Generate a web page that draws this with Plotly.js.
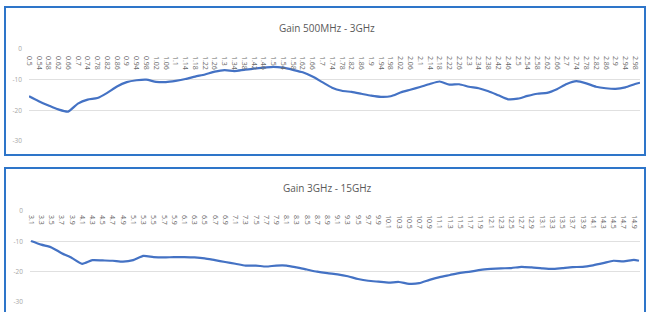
<!DOCTYPE html>
<html>
<head>
<meta charset="utf-8">
<script src="https://cdn.plot.ly/plotly-3.0.1.min.js"></script>
<style>html,body{margin:0;padding:0;background:#fff;}#chart{width:649px;height:312px;}</style>
</head>
<body>
<div id="chart"></div>
<script>
// ---- Data: Gain 500MHz - 3GHz ----
const freq1 = [0.5,0.54,0.58,0.62,0.66,0.7,0.74,0.78,0.82,0.86,0.9,0.94,0.98,1.02,1.06,1.1,1.14,1.18,1.22,1.26,1.3,1.34,1.38,1.42,1.46,1.5,1.54,1.58,1.62,1.66,1.7,1.74,1.78,1.82,1.86,1.9,1.94,1.98,2.02,2.06,2.1,2.14,2.18,2.22,2.26,2.3,2.34,2.38,2.42,2.46,2.5,2.54,2.58,2.62,2.66,2.7,2.74,2.78,2.82,2.86,2.9,2.94,2.98,3.0];
const gain1 = [-15.4,-17.0,-18.4,-19.7,-20.4,-17.8,-16.5,-16.0,-14.3,-12.2,-10.8,-10.2,-10.0,-10.7,-10.8,-10.4,-9.8,-9.0,-8.3,-7.4,-6.9,-7.2,-6.8,-6.4,-6.1,-5.8,-6.1,-6.8,-7.6,-9.0,-10.8,-12.6,-13.6,-14.0,-14.6,-15.2,-15.6,-15.4,-14.2,-13.3,-12.4,-11.4,-10.6,-11.6,-11.5,-12.3,-12.8,-13.8,-15.1,-16.4,-16.2,-15.3,-14.6,-14.3,-13.1,-11.4,-10.5,-11.2,-12.3,-12.8,-13.0,-12.5,-11.4,-11.0];
const tickLabels1 = ["0.5","0.54","0.58","0.62","0.66","0.7","0.74","0.78","0.82","0.86","0.9","0.94","0.98","1.02","1.06","1.1","1.14","1.18","1.22","1.26","1.3","1.34","1.38","1.42","1.46","1.5","1.54","1.58","1.62","1.66","1.7","1.74","1.78","1.82","1.86","1.9","1.94","1.98","2.02","2.06","2.1","2.14","2.18","2.22","2.26","2.3","2.34","2.38","2.42","2.46","2.5","2.54","2.58","2.62","2.66","2.7","2.74","2.78","2.82","2.86","2.9","2.94","2.98"];

// ---- Data: Gain 3GHz - 15GHz ----
const freq2 = [3.1,3.3,3.5,3.7,3.9,4.1,4.3,4.5,4.7,4.9,5.1,5.3,5.5,5.7,5.9,6.1,6.3,6.5,6.7,6.9,7.1,7.3,7.5,7.7,7.9,8.1,8.3,8.5,8.7,8.9,9.1,9.3,9.5,9.7,9.9,10.1,10.3,10.5,10.7,10.9,11.1,11.3,11.5,11.7,11.9,12.1,12.3,12.5,12.7,12.9,13.1,13.3,13.5,13.7,13.9,14.1,14.3,14.5,14.7,14.9,15.0];
const gain2 = [-9.9,-11.1,-12.0,-13.9,-15.5,-17.4,-16.2,-16.3,-16.4,-16.7,-16.2,-14.8,-15.2,-15.3,-15.2,-15.2,-15.3,-15.6,-16.2,-16.8,-17.4,-18.0,-18.0,-18.3,-18.0,-18.0,-18.6,-19.3,-20.0,-20.5,-20.9,-21.5,-22.4,-23.0,-23.3,-23.6,-23.4,-24.0,-23.8,-22.7,-21.8,-21.1,-20.4,-20.0,-19.4,-19.1,-18.9,-18.8,-18.4,-18.6,-18.9,-19.1,-18.8,-18.5,-18.4,-17.9,-17.2,-16.4,-16.6,-16.1,-16.4];
const tickLabels2 = ["3.1","3.3","3.5","3.7","3.9","4.1","4.3","4.5","4.7","4.9","5.1","5.3","5.5","5.7","5.9","6.1","6.3","6.5","6.7","6.9","7.1","7.3","7.5","7.7","7.9","8.1","8.3","8.5","8.7","8.9","9.1","9.3","9.5","9.7","9.9","10.1","10.3","10.5","10.7","10.9","11.1","11.3","11.5","11.7","11.9","12.1","12.3","12.5","12.7","12.9","13.1","13.3","13.5","13.7","13.9","14.1","14.3","14.5","14.7","14.9"];

const yTickVals = [-30,-20,-10,0];
const yTickText = ["-30","-20","-10","0"];
const titles = ["Gain 500MHz - 3GHz","Gain 3GHz - 15GHz"];

const W = 649, H = 312;
const px = v => v / W;
const py = v => 1 - v / H;

const FONT = "Open Sans, Liberation Sans, sans-serif";
const lineColor = "#4472C4";
const border = "#2E75C9";

const traces = [
  {x: freq1, y: gain1, xaxis: "x", yaxis: "y", type: "scatter", mode: "lines",
   line: {color: lineColor, width: 2.2, shape: "spline", smoothing: 0.6}, hoverinfo: "skip"},
  {x: freq2, y: gain2, xaxis: "x2", yaxis: "y2", type: "scatter", mode: "lines",
   line: {color: lineColor, width: 2.2, shape: "spline", smoothing: 0.6}, hoverinfo: "skip"}
];

function xAxis(domainPx, range, vals, labels, posPx) {
  return {
    domain: [px(domainPx[0]), px(domainPx[1])], range: range,
    anchor: "free", position: py(posPx), side: "bottom",
    tickmode: "array", tickvals: vals.map(Number), ticktext: labels,
    tickangle: 90, tickfont: {family: FONT, size: 7, color: "#6a6a6a"},
    showgrid: false, zeroline: false, showline: false, ticks: "", ticklen: 0,
    fixedrange: true
  };
}
function yAxis(anchor, domainPx) {
  return {
    anchor: anchor, domain: [py(domainPx[1]), py(domainPx[0])], range: [-30, 0],
    tickmode: "array", tickvals: yTickVals, ticktext: yTickText,
    tickfont: {family: FONT, size: 6.5, color: "#a6a6a6"},
    showgrid: true, gridcolor: "#e0e0e0", gridwidth: 1,
    zeroline: false, showline: false, ticks: "", ticklabelstandoff: 6,
    fixedrange: true
  };
}

const layout = {
  width: W, height: H, margin: {l: 0, r: 0, t: 0, b: 0},
  paper_bgcolor: "#ffffff", plot_bgcolor: "rgba(0,0,0,0)",
  showlegend: false,
  xaxis: xAxis([29, 640], [0.5, 3.0], tickLabels1, tickLabels1, 55),
  yaxis: yAxis("x", [49, 141]),
  xaxis2: xAxis([30, 640], [3.08, 15.02], tickLabels2, tickLabels2, 214),
  yaxis2: yAxis("x2", [211, 302]),
  shapes: [
    {type: "rect", xref: "paper", yref: "paper", x0: px(5), x1: px(645), y0: py(155), y1: py(7),
     line: {color: border, width: 2}},
    {type: "rect", xref: "paper", yref: "paper", x0: px(5), x1: px(645), y0: py(320), y1: py(168),
     line: {color: border, width: 2}}
  ],
  annotations: [
    {text: titles[0], xref: "paper", yref: "paper", x: px(327), y: py(28), showarrow: false,
     xanchor: "center", yanchor: "middle", font: {family: FONT, size: 10, color: "#595959"}},
    {text: titles[1], xref: "paper", yref: "paper", x: px(327), y: py(188), showarrow: false,
     xanchor: "center", yanchor: "middle", font: {family: FONT, size: 10, color: "#595959"}}
  ]
};

Plotly.newPlot("chart", traces, layout, {staticPlot: true, displayModeBar: false});
</script>
</body>
</html>
